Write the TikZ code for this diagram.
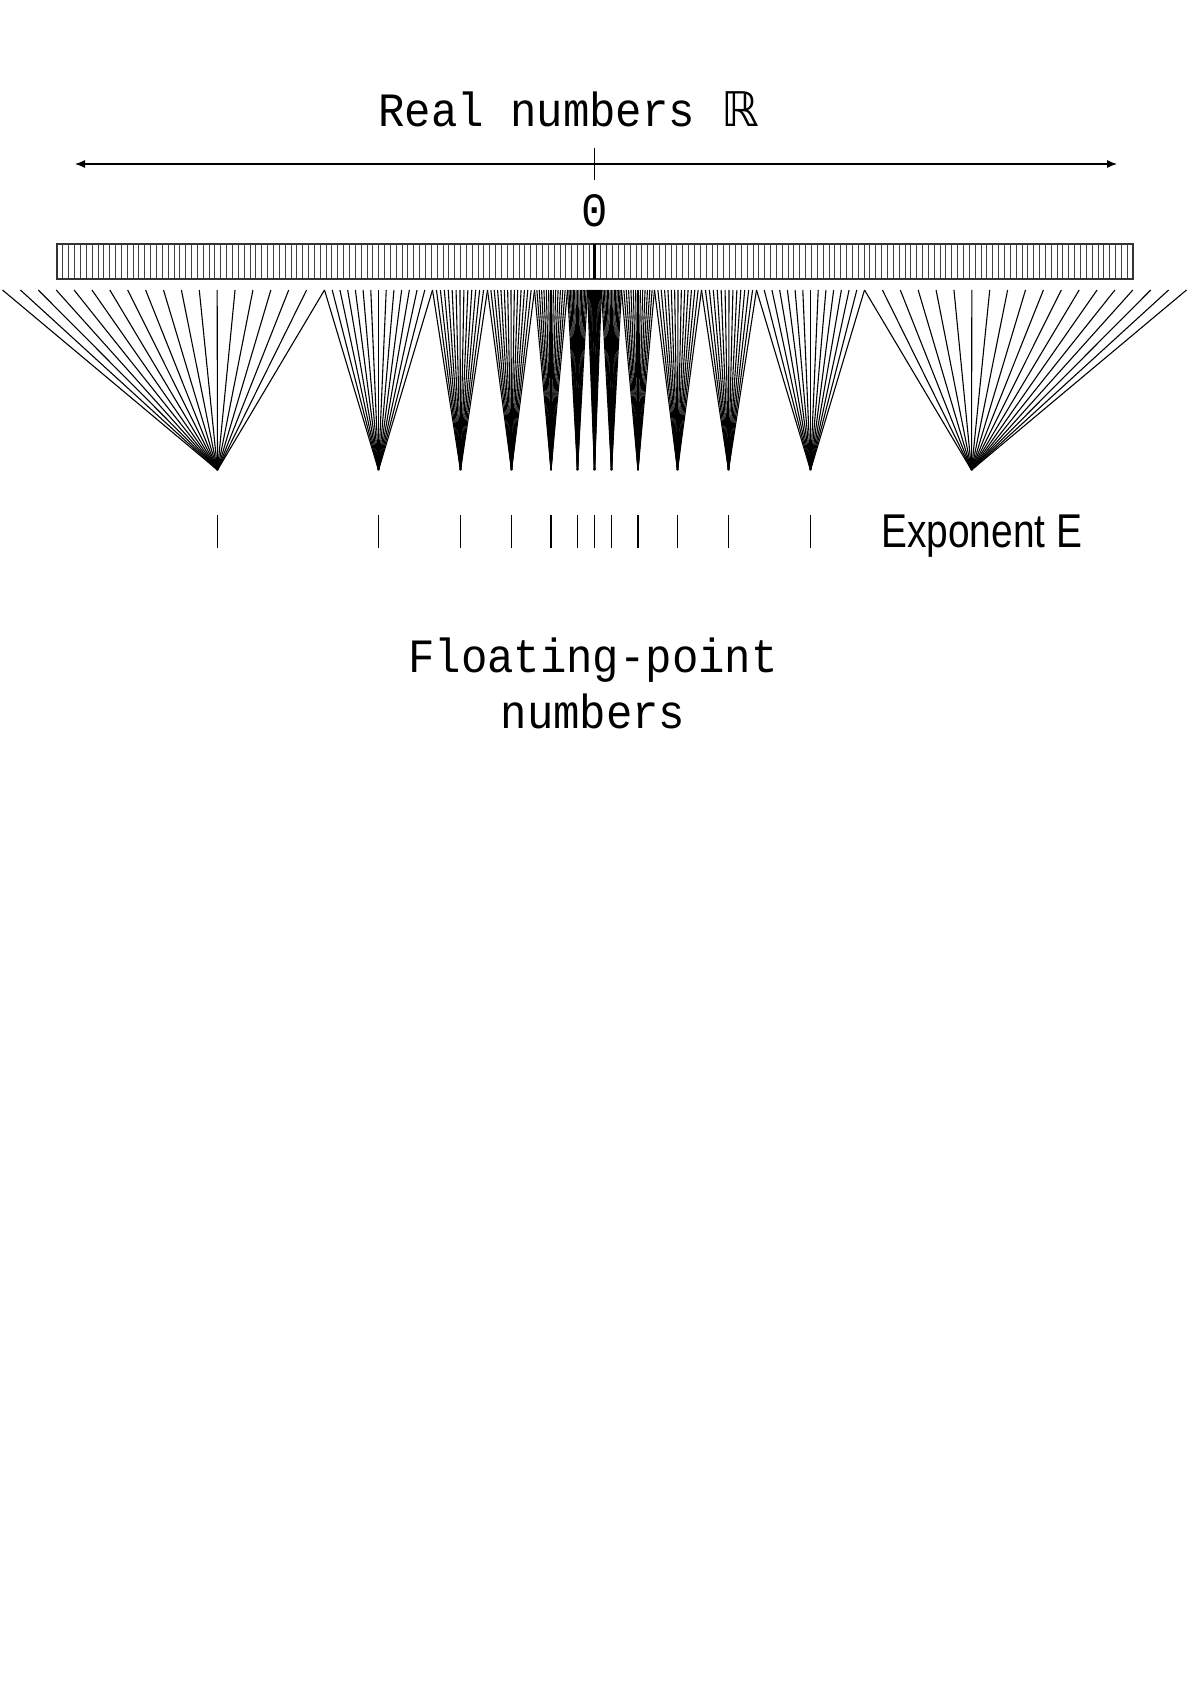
\documentclass[tikz,border=0pt]{standalone}
\usepackage{fontspec}
\setmonofont[FakeStretch=0.92]{Liberation Mono}
\newfontfamily\narrowfont[FakeStretch=0.82]{Liberation Sans}
\newfontfamily\symbfont{DejaVu Sans}
\usetikzlibrary{arrows.meta,positioning,calc}

\begin{document}
\begin{tikzpicture}[x=0.5pt,y=-0.5pt,>={Latex[length=5pt,width=4pt]},
  lbl/.style={font=\ttfamily\fontsize{23.9}{28}\selectfont,inner sep=0pt},
  fanline/.style={line width=0.55pt},
  cell/.style={line width=0.4pt,black!75},
  tick/.style={line width=0.9pt}]
  \useasboundingbox (0,0) rectangle (1190,1684);
  \def\cx{594.5}
  % real line
  \node[lbl,anchor=base west] (title) at (378,127) {Real numbers {\symbfont ℝ}};
  \coordinate (lft) at (75,164); \coordinate (rgt) at (1117,164);
  \coordinate (zup) at (\cx,148); \coordinate (zdn) at (\cx,180);
  \draw[<->,line width=0.6pt] (lft) -- (rgt);
  \draw[tick] (zup) -- (zdn);
  \node[lbl,anchor=base] (zero) at (\cx,227) {0};
  % discretised bar
  \coordinate (barA) at (57,244); \coordinate (barB) at (1133,279);
  \foreach \i in {1,...,183}
    \draw[cell] ({57+\i*5.8478},244) -- ({57+\i*5.8478},279);
  \draw[line width=0.6pt,black!80] (barA) rectangle (barB);
  \draw[line width=1.2pt] (\cx,244) -- (\cx,279);
  % fans: apex offset / span from / span to / intervals
  \foreach \ap/\lo/\hi/\n [count=\j] in {17/7/27/14, 43.5/27/60/14, 83/60/107/14,
      134/107/162/14, 216/162/270/14, 377/270/592/18}{
    \coordinate (eR\j) at (\cx+\ap,470);
    \coordinate (eL\j) at (\cx-\ap,470);
    \foreach \k in {0,...,\n}{
      \draw[fanline] (eR\j) -- ({\cx+\lo+(\hi-\lo)*\k/\n},290);
      \draw[fanline] (eL\j) -- ({\cx-\lo-(\hi-\lo)*\k/\n},290);
    }
  }
  \coordinate (e0) at (\cx,470);
  \foreach \k in {0,...,14}
    \draw[fanline] (e0) -- ({\cx-7+\k},290);
  % exponent ticks
  \foreach \x in {-377,-216,-134,-83,-43.5,-17,0,17,43.5,83,134,216}
    \draw[tick] (\cx+\x,515) -- (\cx+\x,548);
  \node[font=\narrowfont\fontsize{23.7}{28}\selectfont,anchor=base west,inner sep=0pt]
    (expo) at (881,547) {Exponent E};
  \node[lbl,anchor=base] (flt1) at (593,672) {Floating-point};
  \node[lbl,anchor=base] (flt2) at (593,728) {numbers};
\end{tikzpicture}
\end{document}
